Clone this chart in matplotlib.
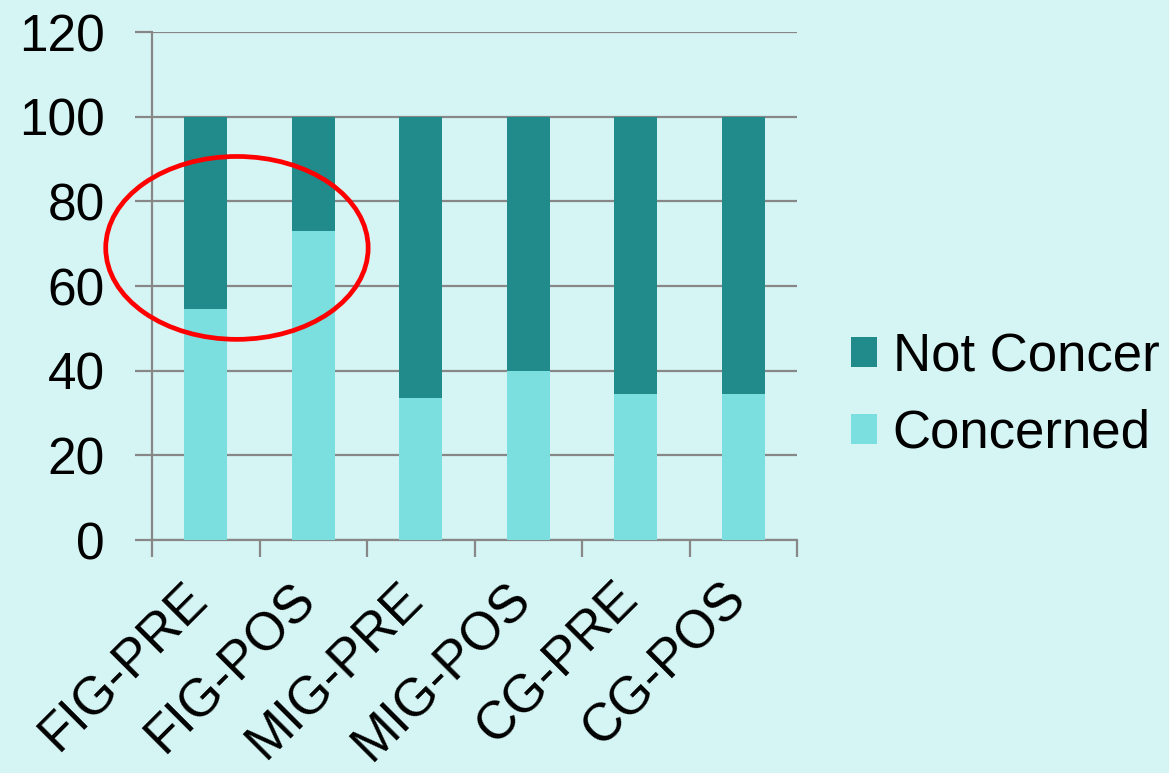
import matplotlib
matplotlib.use("Agg")
import matplotlib.pyplot as plt
import matplotlib.transforms as mtransforms
from matplotlib.patches import Ellipse
import numpy as np

plt.rcParams.update({'font.family': ['Liberation Sans', 'DejaVu Sans']})

groups = ['FIG-PRE', 'FIG-POS', 'MIG-PRE', 'MIG-POS', 'CG-PRE', 'CG-POS']
concerned = [54.5, 73.0, 33.5, 40.0, 34.5, 34.5]
not_concerned = [100 - v for v in concerned]
yticks = [0, 20, 40, 60, 80, 100, 120]

BG = '#D5F5F4'
DARK = '#218B8B'
LIGHT = '#7ADFDE'
GRID = '#878787'

fig = plt.figure(figsize=(11.69, 7.73), dpi=100, facecolor=BG)
ax = fig.add_axes([0.130, 0.3014, 0.552, 0.6572], facecolor=BG)

x = np.arange(len(groups))
ax.bar(x, concerned, width=0.4, color=LIGHT, label='Concerned', zorder=3)
ax.bar(x, not_concerned, width=0.4, bottom=concerned, color=DARK,
       label='Not Concer', zorder=3)

ax.set_xlim(-0.5, len(groups) - 0.5)
ax.set_ylim(0, 120)
ax.set_yticks(yticks)
ax.yaxis.grid(True, color=GRID, lw=1.6, zorder=0)
ax.tick_params(axis='y', labelsize=37, length=12, width=1.6, color=GRID, pad=22)

# category labels at centres, tick marks at boundaries
ax.set_xticks(x)
ax.set_xticklabels(groups, rotation=45, ha='right', va='top')
ax.set_xticks(np.arange(-0.5, len(groups)), minor=True)
ax.tick_params(axis='x', which='major', length=0, labelsize=38, pad=24)
ax.tick_params(axis='x', which='minor', length=12, width=1.6, color=GRID)
offset = mtransforms.ScaledTranslation(12 / 100, 0, fig.dpi_scale_trans)
for lab in ax.get_xticklabels():
    lab.set_transform(lab.get_transform() + offset)

for side in ['top', 'right']:
    ax.spines[side].set_visible(False)
for side in ['left', 'bottom']:
    ax.spines[side].set_color(GRID)
    ax.spines[side].set_linewidth(1.6)

ell = Ellipse((0.29, 69), 2.44, 43.2, fill=False, edgecolor='#FF0000',
              lw=3.4, zorder=5, clip_on=False)
ax.add_patch(ell)

handles, labels = ax.get_legend_handles_labels()
ax.legend(handles[::-1], labels[::-1], loc='center left',
          bbox_to_anchor=(1.05, 0.285), frameon=False, fontsize=38,
          handlelength=0.5, handleheight=0.5, handletextpad=0.3,
          labelspacing=0.5, borderaxespad=0)

fig.savefig('out.png', dpi=100, facecolor=BG)
